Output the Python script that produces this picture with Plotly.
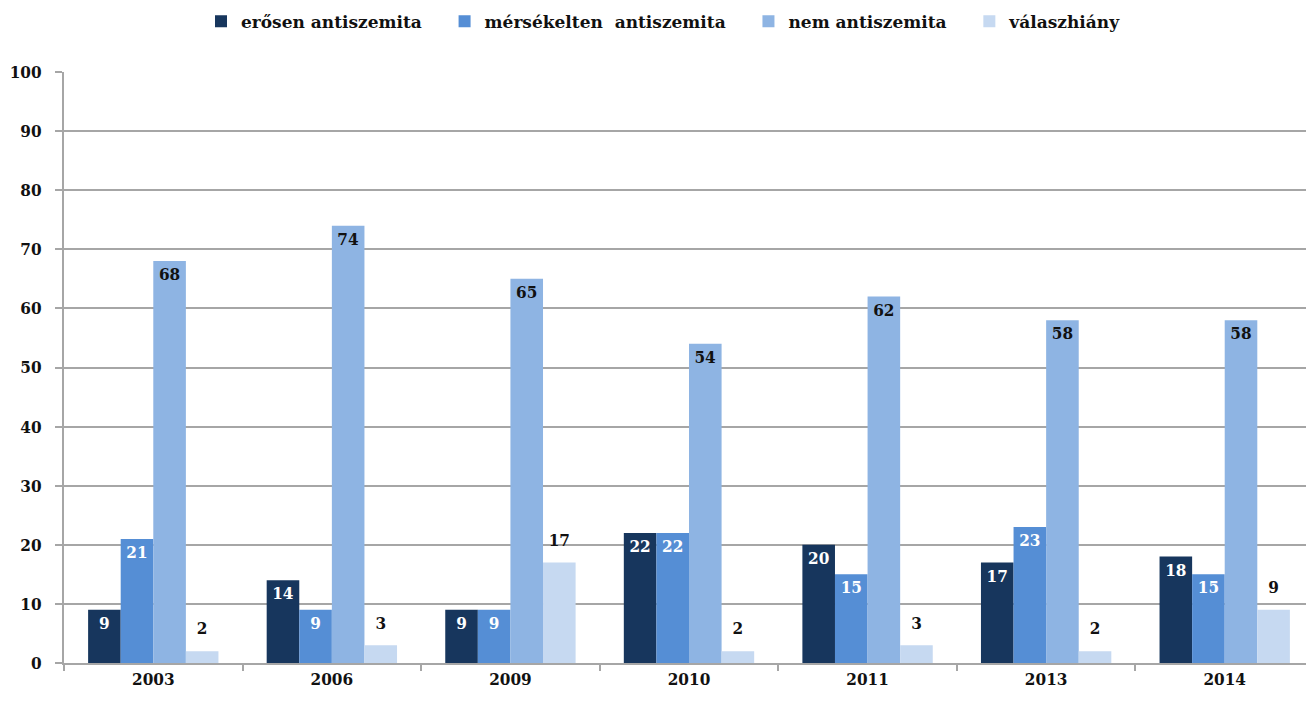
import plotly.graph_objects as go

years = ["2003", "2006", "2009", "2010", "2011", "2013", "2014"]
erosen = [9, 14, 9, 22, 20, 17, 18]
mersekelten = [21, 9, 9, 22, 15, 23, 15]
nem = [68, 74, 65, 54, 62, 58, 58]
valaszhiany = [2, 3, 17, 2, 3, 2, 9]

FONT = "DejaVu Serif Condensed, DejaVu Serif, serif"
LEGEND_FONT = "DejaVu Serif, serif"
GRID = "#a6a6a6"
PAD = "&nbsp;" * 3  # a bit more room between legend entries

fig = go.Figure()

inside = [
    ("erősen antiszemita" + PAD, erosen, "#17365d", "white"),
    ("mérsékelten  antiszemita" + PAD, mersekelten, "#558ed5", "white"),
    ("nem antiszemita" + PAD, nem, "#8eb4e3", "#111111"),
]
for name, vals, color, tcolor in inside:
    fig.add_trace(go.Bar(
        x=years, y=vals, name=name,
        marker=dict(color=color, line_width=0),
        text=[str(v) for v in vals],
        textposition="inside", insidetextanchor="end",
        textangle=0,
        textfont=dict(family=FONT, size=17, color=tcolor),
    ))

fig.add_trace(go.Bar(
    x=years, y=valaszhiany, name="válaszhiány",
    marker=dict(color="#c6d9f1", line_width=0),
    text=[f"<span style='font-size:17px'>{v}</span><br> " for v in valaszhiany],
    textposition="outside", cliponaxis=False,
    textangle=0,
    textfont=dict(family=FONT, size=9, color="#111111"),
))

fig.update_layout(
    width=1306, height=698,
    barmode="group",
    bargap=0.27, bargroupgap=0,
    plot_bgcolor="white", paper_bgcolor="white",
    margin=dict(l=56, r=0, t=64, b=43, autoexpand=False),
    font=dict(family=FONT, size=17, color="#111111"),
    legend=dict(
        orientation="h", x=0.48, xanchor="center", y=1.085, yanchor="middle",
        font=dict(family=LEGEND_FONT, size=17, color="#111111", weight="bold"),
        itemwidth=30, traceorder="normal",
    ),
)
fig.update_traces(textfont_weight="bold")
fig.update_xaxes(
    showline=True, linecolor=GRID, linewidth=2,
    ticks="outside", tickson="boundaries", ticklen=6, tickcolor=GRID, tickwidth=2,
    tickfont=dict(family=FONT, size=17, color="#111111", weight="bold"),
    showgrid=False,
)
fig.update_yaxes(
    range=[0, 100], dtick=10,
    showline=True, linecolor=GRID, linewidth=2,
    showgrid=True, gridcolor=GRID, gridwidth=2,
    ticks="outside", ticklen=7, tickcolor=GRID, tickwidth=2,
    tickfont=dict(family=FONT, size=17, color="#111111", weight="bold"),
    ticklabelstandoff=10,
    zeroline=False,
)

fig.write_html("out.html")
